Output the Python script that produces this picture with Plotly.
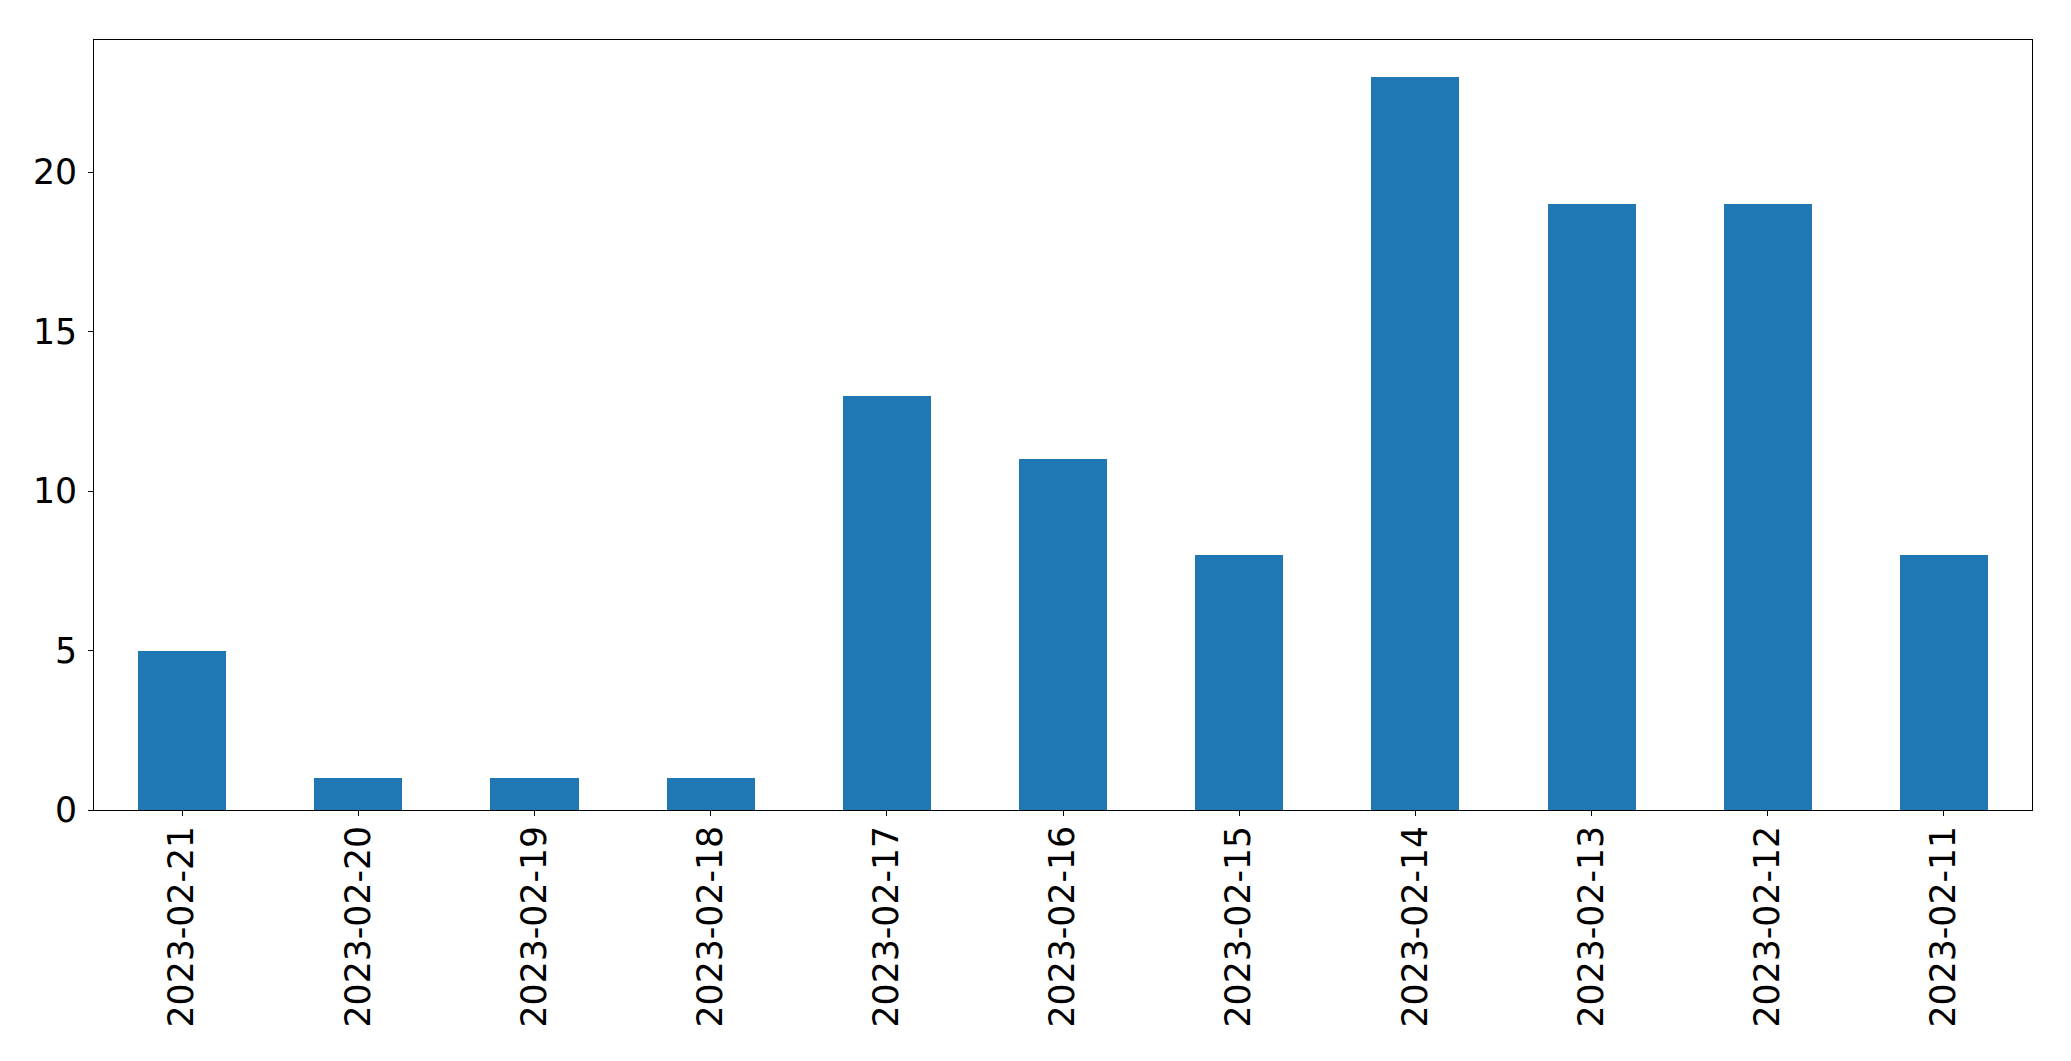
import plotly.graph_objects as go

dates = ["2023-02-21", "2023-02-20", "2023-02-19", "2023-02-18", "2023-02-17",
         "2023-02-16", "2023-02-15", "2023-02-14", "2023-02-13", "2023-02-12", "2023-02-11"]
counts = [5, 1, 1, 1, 13, 11, 8, 23, 19, 19, 8]
y_ticks = [0, 5, 10, 15, 20]

fig = go.Figure(go.Bar(x=dates, y=counts, width=0.5, marker=dict(color="#1f77b4", line=dict(width=0))))

font = dict(family="DejaVu Sans", size=34.7, color="black")
fig.update_layout(
    width=2063, height=1053,
    margin=dict(l=86, r=39, t=32, b=251),
    paper_bgcolor="white", plot_bgcolor="white",
    showlegend=False,
    font=font,
    bargap=0,
)
fig.update_xaxes(
    type="category", range=[-0.5, len(dates) - 0.5],
    tickangle=-90, ticks="outside", ticklen=5, tickwidth=1, tickcolor="black",
    showline=True, linecolor="black", linewidth=1, mirror=True,
    showgrid=False, zeroline=False, tickfont=font, ticklabelstandoff=-4,
)
fig.update_yaxes(
    range=[0, max(counts) * 1.05], tickvals=y_ticks, ticktext=[str(v) for v in y_ticks],
    ticks="outside", ticklen=5, tickwidth=1, tickcolor="black",
    showline=True, linecolor="black", linewidth=1, mirror=True,
    showgrid=False, zeroline=False, tickfont=font, ticklabelstandoff=4,
)
fig.write_html("out.html")
